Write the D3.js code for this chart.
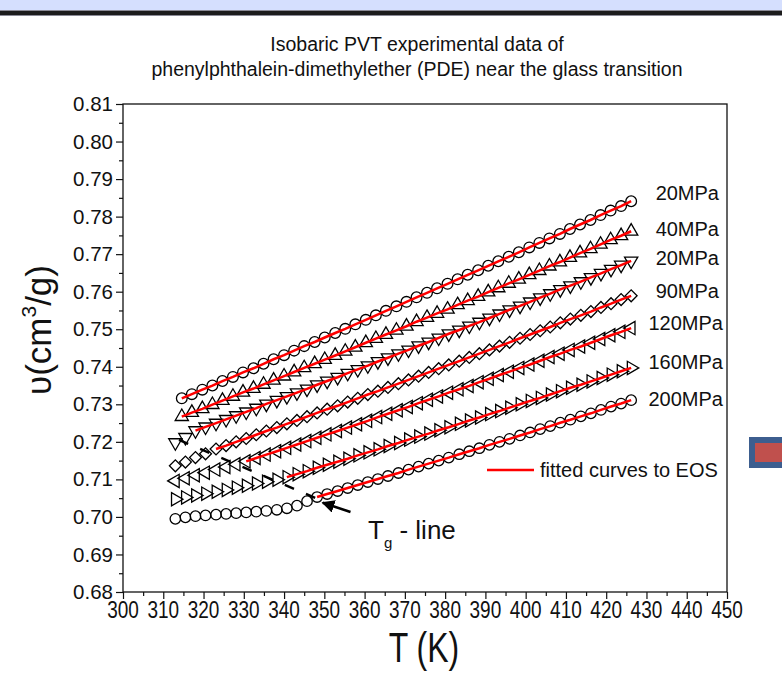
<!DOCTYPE html>
<html>
<head>
<meta charset="utf-8">
<script src="https://cdn.jsdelivr.net/npm/d3@7"></script>
<style>
  body { margin: 0; background: #fff; }
  svg { display: block; font-family: "Liberation Sans", Arial, sans-serif; }
</style>
</head>
<body>
<svg id="chart" width="782" height="678"></svg>
<script>
// temperatures (K) of the isobars; the two low pressure runs start a bit later
const tempsA = [314.6, 317.1, 319.7, 322.2, 324.7, 327.3, 329.8, 332.4, 334.9, 337.4,
    340.0, 342.5, 345.0, 347.6, 350.1, 352.7, 355.2, 357.7, 360.3, 362.8,
    365.3, 367.9, 370.4, 372.9, 375.5, 378.0, 380.6, 383.1, 385.6, 388.2,
    390.7, 393.2, 395.8, 398.3, 400.9, 403.4, 405.9, 408.5, 411.0, 413.5,
    416.1, 418.6, 421.1, 423.7, 426.2];
const tempsB = [313.0, 315.5, 318.0, 320.5, 323.1, 325.6, 328.1, 330.6, 333.1, 335.6,
    338.2, 340.7, 343.2, 345.7, 348.2, 350.7, 353.3, 355.8, 358.3, 360.8,
    363.3, 365.8, 368.4, 370.9, 373.4, 375.9, 378.4, 380.9, 383.5, 386.0,
    388.5, 391.0, 393.5, 396.0, 398.6, 401.1, 403.6, 406.1, 408.6, 411.1,
    413.7, 416.2, 418.7, 421.2, 423.7, 426.2];

// specific volume (cm3/g)
const vol20 = [0.7316, 0.7327, 0.7339, 0.7350, 0.7362, 0.7373, 0.7385, 0.7396, 0.7408, 0.7420,
    0.7431, 0.7443, 0.7455, 0.7466, 0.7478, 0.7490, 0.7501, 0.7513, 0.7525, 0.7537,
    0.7549, 0.7561, 0.7573, 0.7585, 0.7597, 0.7609, 0.7621, 0.7633, 0.7645, 0.7657,
    0.7669, 0.7681, 0.7693, 0.7705, 0.7718, 0.7730, 0.7742, 0.7754, 0.7767, 0.7779,
    0.7791, 0.7804, 0.7816, 0.7828, 0.7841];
const vol40 = [0.7267, 0.7278, 0.7288, 0.7299, 0.7310, 0.7321, 0.7332, 0.7342, 0.7353, 0.7364,
    0.7375, 0.7386, 0.7397, 0.7408, 0.7419, 0.7430, 0.7441, 0.7452, 0.7464, 0.7475,
    0.7486, 0.7497, 0.7508, 0.7520, 0.7531, 0.7542, 0.7553, 0.7565, 0.7576, 0.7587,
    0.7599, 0.7610, 0.7622, 0.7633, 0.7645, 0.7656, 0.7668, 0.7679, 0.7691, 0.7703,
    0.7714, 0.7726, 0.7738, 0.7749, 0.7761];
const vol60 = [0.7198, 0.7212, 0.7230, 0.7240, 0.7250, 0.7260, 0.7270, 0.7280, 0.7290, 0.7301,
    0.7311, 0.7321, 0.7331, 0.7341, 0.7352, 0.7362, 0.7372, 0.7383, 0.7393, 0.7403,
    0.7414, 0.7424, 0.7435, 0.7445, 0.7456, 0.7466, 0.7477, 0.7488, 0.7498, 0.7509,
    0.7519, 0.7530, 0.7541, 0.7552, 0.7562, 0.7573, 0.7584, 0.7595, 0.7606, 0.7616,
    0.7627, 0.7638, 0.7649, 0.7660, 0.7671, 0.7682];
const vol90 = [0.7136, 0.7146, 0.7158, 0.7168, 0.7181, 0.7190, 0.7200, 0.7209, 0.7219, 0.7229,
    0.7238, 0.7248, 0.7257, 0.7267, 0.7277, 0.7287, 0.7296, 0.7306, 0.7316, 0.7326,
    0.7335, 0.7345, 0.7355, 0.7365, 0.7375, 0.7385, 0.7395, 0.7405, 0.7415, 0.7425,
    0.7435, 0.7445, 0.7455, 0.7465, 0.7476, 0.7486, 0.7496, 0.7506, 0.7517, 0.7527,
    0.7537, 0.7547, 0.7558, 0.7568, 0.7579, 0.7589];
const vol120 = [0.7096, 0.7103, 0.7111, 0.7118, 0.7126, 0.7133, 0.7140, 0.7148, 0.7157, 0.7166,
    0.7175, 0.7184, 0.7193, 0.7202, 0.7211, 0.7220, 0.7229, 0.7238, 0.7247, 0.7256,
    0.7266, 0.7275, 0.7284, 0.7293, 0.7303, 0.7312, 0.7321, 0.7331, 0.7340, 0.7349,
    0.7359, 0.7368, 0.7378, 0.7387, 0.7397, 0.7406, 0.7416, 0.7426, 0.7435, 0.7445,
    0.7454, 0.7464, 0.7474, 0.7484, 0.7493, 0.7503];
const vol160 = [0.7047, 0.7052, 0.7057, 0.7062, 0.7067, 0.7072, 0.7078, 0.7083, 0.7089, 0.7094,
    0.7099, 0.7106, 0.7114, 0.7122, 0.7131, 0.7139, 0.7147, 0.7155, 0.7164, 0.7172,
    0.7180, 0.7189, 0.7197, 0.7206, 0.7214, 0.7222, 0.7231, 0.7239, 0.7248, 0.7257,
    0.7265, 0.7274, 0.7282, 0.7291, 0.7300, 0.7309, 0.7317, 0.7326, 0.7335, 0.7344,
    0.7352, 0.7361, 0.7370, 0.7379, 0.7388, 0.7397];
const vol200 = [0.6995, 0.6999, 0.7002, 0.7004, 0.7006, 0.7008, 0.7010, 0.7012, 0.7014, 0.7016,
    0.7019, 0.7023, 0.7030, 0.7042, 0.7053, 0.7061, 0.7069, 0.7077, 0.7085, 0.7093,
    0.7101, 0.7109, 0.7117, 0.7126, 0.7134, 0.7142, 0.7150, 0.7158, 0.7167, 0.7175,
    0.7183, 0.7192, 0.7200, 0.7208, 0.7217, 0.7225, 0.7234, 0.7242, 0.7251, 0.7259,
    0.7268, 0.7276, 0.7285, 0.7294, 0.7302, 0.7311];

const pressureLabels = ["20MPa", "40MPa", "20MPa", "90MPa", "120MPa", "160MPa", "200MPa"];
// first point of each isobar that lies on the fitted (liquid) branch
const fitStart = [0, 0, 2, 4, 7, 11, 14];
// glass transition line (dashed) and the arrow pointing at it
const tgLineT = [313.9, 347.9];
const tgLineV = [0.7205, 0.7050];
const arrowT = [356.5, 349.6];
const arrowV = [0.7013, 0.7038];

const xTicks = d3.range(300, 451, 10);
const yTicks = d3.range(0.68, 0.8101, 0.01);

const series = [
    {temps: tempsA, vols: vol20, shape: d3.symbolCircle, size: 90, rot: 0},
    {temps: tempsA, vols: vol40, shape: d3.symbolTriangle, size: 76, rot: 0},
    {temps: tempsB, vols: vol60, shape: d3.symbolTriangle, size: 76, rot: 180},
    {temps: tempsB, vols: vol90, shape: d3.symbolSquare, size: 70, rot: 45},
    {temps: tempsB, vols: vol120, shape: d3.symbolTriangle, size: 76, rot: -90},
    {temps: tempsB, vols: vol160, shape: d3.symbolTriangle, size: 76, rot: 90},
    {temps: tempsB, vols: vol200, shape: d3.symbolCircle, size: 86, rot: 0},
];

const svg = d3.select("#chart");
const plot = {left: 123, right: 727, top: 104, bottom: 592};

let x = d3.scaleLinear().domain([300, 450]).range([plot.left, plot.right]);
let y = d3.scaleLinear().domain([0.68, 0.81]).range([plot.bottom, plot.top]);

// window banner at the very top
svg.append("rect").attr("x", 0).attr("y", 0).attr("width", 782).attr("height", 10).attr("fill", "#d5dffe");
svg.append("rect").attr("x", 0).attr("y", 10).attr("width", 782).attr("height", 6).attr("fill", "#8a8a96");
svg.append("rect").attr("x", 0).attr("y", 11).attr("width", 782).attr("height", 4).attr("fill", "#1c1c1c");

// small box on the right edge
svg.append("rect").attr("x", 749).attr("y", 437).attr("width", 40).attr("height", 31).attr("fill", "#3d5e8f");
svg.append("rect").attr("x", 755).attr("y", 443).attr("width", 40).attr("height", 19).attr("fill", "#c0504d");

// title
const title = svg.append("g").attr("text-anchor", "middle").attr("font-size", 19.5).attr("fill", "#111");
title.append("text").attr("x", 417).attr("y", 51).text("Isobaric PVT experimental data of");
title.append("text").attr("x", 417).attr("y", 76).text("phenylphthalein-dimethylether (PDE) near the glass transition");

// axes: major + minor ticks (x labels drawn separately, they are taller than wide)
function xAxis(g) {
    g.attr("transform", `translate(0,${plot.bottom})`)
        .call(d3.axisBottom(x).tickValues(xTicks).tickSize(7).tickFormat(""))
        .call(g => g.select(".domain").remove());
}

function yAxis(g) {
    g.attr("transform", `translate(${plot.left},0)`)
        .call(d3.axisLeft(y).tickValues(yTicks).tickSize(7).tickPadding(3).tickFormat(d3.format(".2f")))
        .call(g => g.select(".domain").remove())
        .call(g => g.selectAll("text").attr("font-size", 20.5).attr("fill", "#111"));
}

svg.append("g").call(xAxis);
svg.append("g").call(yAxis).attr("font-family", null);
svg.append("g").attr("transform", `translate(0,${plot.bottom})`)
    .call(d3.axisBottom(x).tickValues(d3.range(305, 450, 10)).tickSize(4).tickFormat(""))
    .call(g => g.select(".domain").remove());
svg.append("g").attr("transform", `translate(${plot.left},0)`)
    .call(d3.axisLeft(y).tickValues(d3.range(0.685, 0.81, 0.01)).tickSize(4).tickFormat(""))
    .call(g => g.select(".domain").remove());

svg.selectAll(".tick line").attr("stroke", "#111").attr("stroke-width", 1.2);

svg.append("g").attr("text-anchor", "middle").attr("font-size", 19).attr("fill", "#111")
    .selectAll("text")
    .data(xTicks)
    .join("text")
    .attr("transform", d => `translate(${x(d)},618) scale(1,1.25)`)
    .text(d => d);

// frame
svg.append("rect")
    .attr("x", plot.left).attr("y", plot.top)
    .attr("width", plot.right - plot.left).attr("height", plot.bottom - plot.top)
    .attr("fill", "none").attr("stroke", "#111").attr("stroke-width", 1.3);

// axis titles
svg.append("text")
    .attr("transform", "translate(424,662) scale(1,1.3)")
    .attr("text-anchor", "middle").attr("font-size", 32).attr("fill", "#111")
    .text("T (K)");

let yTitle = svg.append("text")
    .attr("transform", "translate(51,330) rotate(-90)")
    .attr("text-anchor", "middle").attr("font-size", 35).attr("fill", "#111");
yTitle.append("tspan").text("\u03c5(cm");
yTitle.append("tspan").attr("font-size", 21).attr("dy", -15).text("3");
yTitle.append("tspan").attr("dy", 15).text("/g)");

// data markers
const marks = svg.append("g").attr("fill", "none").attr("stroke", "#000").attr("stroke-width", 1.3);
series.forEach(s => {
    let sym = d3.symbol(s.shape, s.size);
    marks.append("g").selectAll("path")
        .data(s.vols.map((v, i) => ({t: s.temps[i], v})))
        .join("path")
        .attr("transform", d => `translate(${x(d.t)},${y(d.v)}) rotate(${s.rot})`)
        .attr("d", sym);
});

// glass transition dashed line
svg.append("line")
    .attr("x1", x(tgLineT[0])).attr("y1", y(tgLineV[0]))
    .attr("x2", x(tgLineT[1])).attr("y2", y(tgLineV[1]))
    .attr("stroke", "#000").attr("stroke-width", 2.4).attr("stroke-dasharray", "10,13");

// fitted curves (liquid branch)
const fitLine = d3.line().x(d => x(d.t)).y(d => y(d.v));
series.forEach((s, k) => {
    let pts = s.vols.map((v, i) => ({t: s.temps[i], v})).slice(fitStart[k]);
    svg.append("path")
        .attr("d", fitLine(pts))
        .attr("fill", "none").attr("stroke", "#ff0000").attr("stroke-width", 2.5);
});

// arrow to the Tg line
svg.append("defs").append("marker")
    .attr("id", "head").attr("viewBox", "0 0 10 10").attr("refX", 9).attr("refY", 5)
    .attr("markerWidth", 5).attr("markerHeight", 5).attr("orient", "auto")
    .append("path").attr("d", "M0,0L10,5L0,10Z").attr("fill", "#000");
svg.append("line")
    .attr("x1", x(arrowT[0])).attr("y1", y(arrowV[0]))
    .attr("x2", x(arrowT[1])).attr("y2", y(arrowV[1]))
    .attr("stroke", "#000").attr("stroke-width", 2.6).attr("marker-end", "url(#head)");

let tgText = svg.append("text").attr("x", 368).attr("y", 539).attr("font-size", 26).attr("fill", "#111");
tgText.append("tspan").text("T");
tgText.append("tspan").attr("font-size", 15).attr("dy", 9).text("g");
tgText.append("tspan").attr("dy", -9).text(" - line");

// pressure labels at the end of each isobar
const labelY = [193, 229, 258, 291, 323, 362, 399];
svg.append("g").attr("font-size", 20).attr("fill", "#111").attr("text-anchor", "end")
    .selectAll("text")
    .data(pressureLabels)
    .join("text")
    .attr("x", d => d.length > 5 ? 723 : 719)
    .attr("y", (d, i) => labelY[i] + 7)
    .text(d => d);

// legend
svg.append("line").attr("x1", 487).attr("x2", 534).attr("y1", 470).attr("y2", 470)
    .attr("stroke", "#ff0000").attr("stroke-width", 2.5);
svg.append("text").attr("x", 540).attr("y", 477).attr("font-size", 20).attr("fill", "#111")
    .text("fitted curves to EOS");
</script>
</body>
</html>
